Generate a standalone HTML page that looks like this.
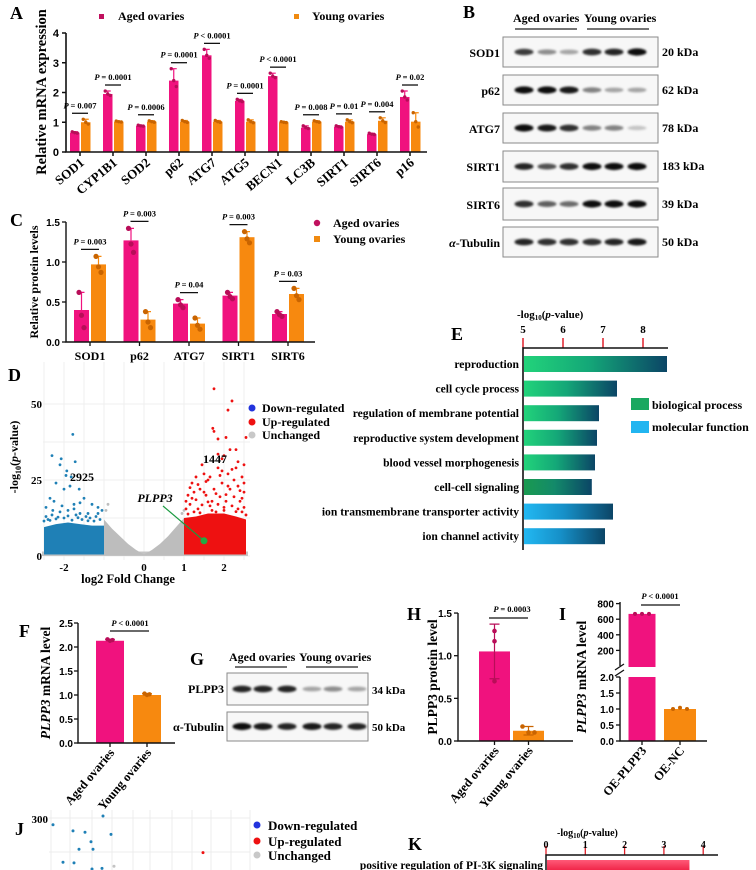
<!DOCTYPE html>
<html><head><meta charset="utf-8">
<style>
html,body{margin:0;padding:0;background:#fff;}
svg{display:block;font-family:"Liberation Serif",serif;font-weight:bold;}
.s{font-family:"Liberation Sans",sans-serif;font-weight:bold;}
.L{font-size:18px;}
</style></head><body>
<svg id="fig" width="756" height="870" viewBox="0 0 756 870" xmlns="http://www.w3.org/2000/svg">
<defs>
<linearGradient id="gGreen" x1="0" x2="1" y1="0" y2="0"><stop offset="0" stop-color="#22d37a"/><stop offset="0.45" stop-color="#14a878"/><stop offset="1" stop-color="#0b4566"/></linearGradient>
<linearGradient id="gGreenD" x1="0" x2="1" y1="0" y2="0"><stop offset="0" stop-color="#1a9a50"/><stop offset="0.45" stop-color="#138a6a"/><stop offset="1" stop-color="#0b4566"/></linearGradient>
<linearGradient id="gBlue" x1="0" x2="1" y1="0" y2="0"><stop offset="0" stop-color="#22b8f2"/><stop offset="0.45" stop-color="#1690c8"/><stop offset="1" stop-color="#0b4566"/></linearGradient>
<linearGradient id="gRed" x1="0" x2="0" y1="0" y2="1"><stop offset="0" stop-color="#ff5a78"/><stop offset="1" stop-color="#ee1c40"/></linearGradient>
<filter id="blur" x="-50%" y="-100%" width="200%" height="300%"><feGaussianBlur stdDeviation="1.1"/></filter>
</defs>

<text class="L" x="10" y="19">A</text>
<text class="L" x="463" y="18">B</text>
<text class="L" x="10" y="226">C</text>
<text class="L" x="8" y="381">D</text>
<text class="L" x="451" y="340">E</text>
<text class="L" x="19" y="637">F</text>
<text class="L" x="190" y="665">G</text>
<text class="L" x="407" y="620">H</text>
<text class="L" x="559" y="620">I</text>
<text class="L" x="15" y="835">J</text>
<text class="L" x="408" y="850">K</text>

<g font-size="12">
<rect x="99" y="14" width="5" height="5" fill="#c0105e"/>
<text x="118" y="20">Aged ovaries</text>
<rect x="294" y="14" width="5" height="5" fill="#f08a10"/>
<text x="312" y="20">Young ovaries</text>
</g>
<text transform="translate(46,92) rotate(-90)" text-anchor="middle" font-size="14.5">Relative mRNA expression</text>

<g font-size="12">
<circle cx="317" cy="223" r="3.2" fill="#c0105e"/>
<text x="333" y="227">Aged ovaries</text>
<rect x="314" y="236" width="6" height="6" fill="#f08a10"/>
<text x="333" y="243">Young ovaries</text>
</g>
<text transform="translate(38,282) rotate(-90)" text-anchor="middle" font-size="12">Relative protein levels</text>

<g font-size="12">
<text x="513" y="22">Aged ovaries</text>
<text x="584" y="22">Young ovaries</text>
<line x1="515" y1="29" x2="577" y2="29" stroke="#222" stroke-width="1.2"/>
<line x1="587" y1="29" x2="649" y2="29" stroke="#222" stroke-width="1.2"/>
<text x="500" y="57" text-anchor="end">SOD1</text>
<text x="500" y="95" text-anchor="end">p62</text>
<text x="500" y="133" text-anchor="end">ATG7</text>
<text x="500" y="171" text-anchor="end">SIRT1</text>
<text x="500" y="209" text-anchor="end">SIRT6</text>
<text x="500" y="247" text-anchor="end"><tspan font-style="italic">α</tspan>-Tubulin</text>
<text x="662" y="56">20 kDa</text>
<text x="662" y="94">62 kDa</text>
<text x="662" y="132">78 kDa</text>
<text x="662" y="170">183 kDa</text>
<text x="662" y="208">39 kDa</text>
<text x="662" y="246">50 kDa</text>
</g>

<text x="128" y="583" text-anchor="middle" font-size="12.5">log2 Fold Change</text>
<text transform="translate(18,457) rotate(-90)" text-anchor="middle" font-size="12">-log<tspan font-size="8" dy="3">10</tspan><tspan dy="-3">(</tspan><tspan font-style="italic">p</tspan>-value)</text>
<g font-size="12">
<circle cx="252" cy="408" r="3.5" fill="#2233dd"/><text x="262" y="412">Down-regulated</text>
<circle cx="252" cy="422" r="3.5" fill="#ee1111"/><text x="262" y="426">Up-regulated</text>
<circle cx="252" cy="435" r="3.5" fill="#c8c8c8"/><text x="262" y="439">Unchanged</text>
</g>

<text x="517" y="318" font-size="11">-log<tspan font-size="7" dy="2">10</tspan><tspan dy="-2">(</tspan><tspan font-style="italic">p</tspan>-value)</text>
<g font-size="12">
<rect x="631" y="398" width="18" height="12" fill="#1aa860"/><text x="652" y="409">biological process</text>
<rect x="631" y="421" width="18" height="12" fill="#22b5f0"/><text x="652" y="431">molecular function</text>
</g>

<text transform="translate(50,683) rotate(-90)" text-anchor="middle" font-size="13.5"><tspan font-style="italic">PLPP3</tspan> mRNA level</text>
<text transform="translate(437,677) rotate(-90)" text-anchor="middle" font-size="13.5">PLPP3 protein level</text>
<text transform="translate(586,677) rotate(-90)" text-anchor="middle" font-size="13.5"><tspan font-style="italic">PLPP3</tspan> mRNA level</text>

<g font-size="12">
<text x="229" y="661">Aged ovaries</text>
<text x="299" y="661">Young ovaries</text>
<line x1="235" y1="667" x2="287" y2="667" stroke="#222" stroke-width="1.2"/>
<line x1="306" y1="667" x2="358" y2="667" stroke="#222" stroke-width="1.2"/>
<text x="224" y="693" text-anchor="end">PLPP3</text>
<text x="224" y="731" text-anchor="end">α-Tubulin</text>
<text x="372" y="694" font-size="11">34 kDa</text>
<text x="372" y="731" font-size="11">50 kDa</text>
</g>

<g font-size="13">
<circle cx="257" cy="825" r="3.5" fill="#2233dd"/><text x="268" y="830">Down-regulated</text>
<circle cx="257" cy="841" r="3.5" fill="#ee1111"/><text x="268" y="846">Up-regulated</text>
<circle cx="257" cy="855" r="3.5" fill="#c8c8c8"/><text x="268" y="860">Unchanged</text>
</g>
<text x="557" y="836" font-size="10">-log<tspan font-size="7" dy="2">10</tspan><tspan dy="-2">(</tspan><tspan font-style="italic">p</tspan>-value)</text>
</svg>

<script>
const NS='http://www.w3.org/2000/svg';
const svg=document.getElementById('fig');
function mk(tag,a,p){const e=document.createElementNS(NS,tag);for(const k in a)e.setAttribute(k,a[k]);(p||svg).appendChild(e);return e;}
const PINK='#f0127e',PINKD='#b80d58',ORG='#f7890f',ORGD='#c96400';

const aCats=['SOD1','CYP1B1','SOD2','p62','ATG7','ATG5','BECN1','LC3B','SIRT1','SIRT6','p16'];
const aAged=[0.65,1.95,0.88,2.4,3.25,1.72,2.55,0.82,0.85,0.6,1.85];
const aYoung=[1.0,1.02,1.02,1.02,1.02,1.02,1.0,1.02,1.02,1.05,1.02];
const aAgedErr=[0.03,0.1,0.02,0.4,0.2,0.05,0.1,0.06,0.03,0.03,0.2];
const aYoungErr=[0.1,0.02,0.03,0.04,0.04,0.06,0.02,0.03,0.06,0.1,0.3];
const aPvals=['= 0.007','= 0.0001','= 0.0006','= 0.0001','< 0.0001','= 0.0001','< 0.0001','= 0.008','= 0.01','= 0.004','= 0.02'];
const aTicks=[0,1,2,3,4];

const cCats=['SOD1','p62','ATG7','SIRT1','SIRT6'];
const cAged=[0.4,1.27,0.48,0.58,0.35];
const cYoung=[0.97,0.28,0.23,1.31,0.6];
const cAgedErr=[0.22,0.15,0.05,0.04,0.03];
const cYoungErr=[0.1,0.1,0.07,0.07,0.07];
const cPvals=['= 0.003','= 0.003','= 0.04','= 0.003','= 0.03'];
const cTicks=[0,0.5,1.0,1.5];

const dXTicks=[-2,0,1,2];
const dYTicks=[0,25,50];
const dDownCloud=[[-2.5,0.5],[-2.5,9.5],[-2.2,10.5],[-1.9,11],[-1.6,10.5],[-1.3,10],[-1.0,10],[-1.0,0.5]];
const dUpCloud=[[1.0,0.5],[1.0,12.5],[1.3,13],[1.6,14],[2.0,14],[2.3,13],[2.55,12],[2.55,0.5]];
const dGreyCloud=[[-1.0,0.3],[-1.0,12],[-0.8,9],[-0.6,6.5],[-0.4,4],[-0.2,2],[0,0.5],[0.2,2],[0.4,4],[0.6,6.5],[0.8,9.5],[1.0,12.5],[1.0,0.3]];
const dGreyBase=[[-2.55,0],[-2.55,1.5],[2.6,1.5],[2.6,0]];
const dDownX=[-1.78,-2.3,-2.07,-1.72,-1.93,-2.1,-1.95,-1.82,-2.2,-1.85,-1.62,-2.0,-2.35,-1.5,-2.25,-1.75,-1.3,-1.15,-2.45,-1.05,-2.1,-1.6,-1.9,-1.4,-2.3,-1.2,-2.45,-1.7,-1.35,-2.15,-2.4,-2.0,-1.55,-1.25,-1.1,-1.8,-2.2,-1.45,-2.5,-1.65,-1.9,-2.35,-1.15,-1.75,-2.05,-1.4,-2.28,-1.6];
const dDownY=[40,33,32,31,28,30,26.5,26,24,23,22,22,19,19,18,17,17,16,16,15,14.5,14,15,14,13.5,13,13,13.5,12.5,12.8,12,12.5,12,11.5,12,11.8,12.2,13,11.5,12.6,13.2,11.7,14,15.5,16.5,11.6,15,17.5];
const dUpX=[1.75,2.2,2.1,1.72,1.75,2.55,2.05,1.85,2.15,2.3,2.0,1.95,2.5,1.85,2.3,1.5,1.3,2.1,2.45,1.6,1.2,1.95,2.35,1.4,1.75,2.15,2.5,1.1,1.55,1.9,2.25,1.3,1.7,2.05,2.4,1.15,1.45,1.85,2.2,2.5,1.05,1.35,1.65,2.0,2.35,1.25,1.8,2.45,1.1,1.4,1.7,2.0,2.3,2.55,1.2,1.5,1.8,2.1,2.4,1.35,1.65,1.95,2.25,2.5,1.05,1.55,1.9,2.2,1.45,2.35,1.25,2.05,1.6,2.45,1.15,1.85];
const dUpY=[55,51,48,42,41,39,39,38.5,35,35,33,32,30,29,29,27,26,27,26,25,24,24,23,22,22,22,21,20,20,19.5,19.5,18.5,18,18,18,17,16.8,17,16.5,16,15.5,15.5,16.5,16,15.5,14.5,14.5,14.5,13.8,14.2,15,15,14.6,13.5,19,21,20.5,23,21.5,23.5,26,28,25,24,18,24.5,26.5,28.5,30,31,21,20.2,17.8,19,22.5,33.5];
const dGreyX=[-0.9,-0.95,1.0,0.95];
const dGreyY=[17,15,15,14];
const dPlpp3=[1.5,5];

const eTerms=['reproduction','cell cycle process','regulation of membrane potential','reproductive system development','blood vessel morphogenesis','cell-cell signaling','ion transmembrane transporter activity','ion channel activity'];
const eValues=[8.6,7.35,6.9,6.85,6.8,6.72,7.25,7.05];
const eType=['bp','bp','bp','bp','bp','bpd','mf','mf'];
const eTicks=[5,6,7,8];

const fCats=['Aged ovaries','Young ovaries'];
const fValues=[2.13,1.0];
const fErr=[0.03,0.03];
const fTicks=[0,0.5,1.0,1.5,2.0,2.5];
const hCats=['Aged ovaries','Young ovaries'];
const hValues=[1.05,0.12];
const hErr=[0.32,0.05];
const hReps=[[1.29,1.17,0.7],[0.17,0.1,0.1]];
const hTicks=[0,0.5,1.0,1.5];
const iCats=['OE-PLPP3','OE-NC'];
const iValues=[668,1.0];
const iLowTicks=[0,0.5,1.0,1.5,2.0];
const iHighTicks=[200,400,600,800];
const kTerms=['positive regulation of PI-3K signaling'];
const kValues=[3.65];
const kTicks=[0,1,2,3,4];
const jDownX=[-1.88,-3.88,-3.08,-2.6,-1.56,-2.36,-2.84,-2.28,-3.48,-3.04,-2.32,-1.92];
const jDownY=[303,290,281,279,276,265,254,254,235,234,225,226];
const jUpX=[2.12];const jUpY=[249];
const jGreyX=[-1.44];const jGreyY=[229];

const bRows=['SOD1','p62','ATG7','SIRT1','SIRT6','Tubulin'];
const bInt=[[0.8,0.45,0.35,0.85,0.9,1.0],[1,1,0.95,0.5,0.35,0.35],[1,0.95,0.85,0.5,0.5,0.22],[0.9,0.7,0.85,1,1,1],[0.85,0.65,0.6,1,1,1],[0.9,0.85,0.85,0.85,0.9,0.95]];
const gInt=[[0.9,0.9,0.9,0.35,0.45,0.35],[1,0.95,0.9,0.95,0.9,0.9]];

function ptext(x,y,txt,fs){
  const t=mk('text',{x:x,y:y,'text-anchor':'middle','font-size':fs});
  
  
  const a=mk('tspan',{'font-style':'italic'},t);a.textContent='P ';
  const b=mk('tspan',{},t);b.textContent=txt;
  return t;
}
function errbar(x,y1,y2,col,w){
  const l=mk('path',{d:`M${x},${y1}V${y2}M${x-w},${y2}H${x+w}`,stroke:col,'stroke-width':1.2,fill:'none'});
  
  
}
function dots(x,vals,yf,col,r){
  vals.forEach((v,k)=>{
    const c=mk('circle',{cx:x+(k-1)*2.5,cy:yf(v),r:r,fill:col});
    
    
  });
}

(function(){
  const x=i=>80+i*33, y=v=>152-v*29.75;
  const g=mk('g',{});
  
  
  aTicks.forEach(t=>{
    const tx=mk('text',{x:59,y:y(t)+4,'text-anchor':'end','font-size':11,class:'s'},g);
    
    
    tx.textContent=t;
    mk('line',{x1:62,x2:66,y1:y(t),y2:y(t),stroke:'#111','stroke-width':1.5},g);
  });
  aCats.forEach((c,i)=>{
    const cx=x(i);
    const b1=mk('rect',{x:cx-10,y:y(aAged[i]),width:9.5,height:y(0)-y(aAged[i]),fill:PINK},g);
    
    
    const b2=mk('rect',{x:cx+1,y:y(aYoung[i]),width:9.5,height:y(0)-y(aYoung[i]),fill:ORG},g);
    
    
    errbar(cx-5.25,y(aAged[i]),y(aAged[i]+aAgedErr[i]),PINK,3);
    errbar(cx+5.75,y(aYoung[i]),y(aYoung[i]+aYoungErr[i]),ORG,3);
    dots(cx-5.25,[aAged[i]+aAgedErr[i],aAged[i],aAged[i]-aAgedErr[i]*0.5],y,PINKD,1.7);
    dots(cx+5.75,[aYoung[i]+aYoungErr[i],aYoung[i],aYoung[i]-aYoungErr[i]*0.6],y,ORGD,1.7);
    const top=y(Math.max(aAged[i]+aAgedErr[i],aYoung[i]+aYoungErr[i]));
    const ln=mk('line',{x1:cx-8,x2:cx+8,y1:top-6,y2:top-6,stroke:'#111','stroke-width':1.3},g);
    
    
    ptext(cx,top-11,aPvals[i],8.5);
    mk('line',{x1:cx,x2:cx,y1:152,y2:156,stroke:'#111','stroke-width':1.5},g);
    const lb=mk('text',{transform:`translate(${cx+5},164) rotate(-40)`,'text-anchor':'end','font-size':13},g);
    
    
    lb.textContent=c;
  });
  const ax=mk('path',{d:'M66,33V152H427',stroke:'#111','stroke-width':1.6,fill:'none'},g);
  
  
})();

(function(){
  const x=i=>90+i*49.5, y=v=>342-v*80;
  cTicks.forEach(t=>{
    const tx=mk('text',{x:60,y:y(t)+4,'text-anchor':'end','font-size':10,class:'s'});
    
    
    tx.textContent=t.toFixed(1);
    mk('line',{x1:62,x2:66,y1:y(t),y2:y(t),stroke:'#111','stroke-width':1.3});
  });
  cCats.forEach((c,i)=>{
    const cx=x(i);
    const b1=mk('rect',{x:cx-16,y:y(cAged[i]),width:15,height:y(0)-y(cAged[i]),fill:PINK});
    
    
    const b2=mk('rect',{x:cx+1,y:y(cYoung[i]),width:15,height:y(0)-y(cYoung[i]),fill:ORG});
    
    
    errbar(cx-8.5,y(cAged[i]),y(cAged[i]+cAgedErr[i]),PINK,3);
    errbar(cx+8.5,y(cYoung[i]),y(cYoung[i]+cYoungErr[i]),ORG,3);
    dots(cx-8.5,[cAged[i]+cAgedErr[i],cAged[i]-cAgedErr[i]*0.3,cAged[i]-cAgedErr[i]],y,PINKD,2.6);
    dots(cx+8.5,[cYoung[i]+cYoungErr[i],cYoung[i]-cYoungErr[i]*0.3,cYoung[i]-cYoungErr[i]],y,ORGD,2.6);
    const top=y(Math.max(cAged[i]+cAgedErr[i],cYoung[i]+cYoungErr[i]));
    const ln=mk('line',{x1:cx-9,x2:cx+9,y1:top-7,y2:top-7,stroke:'#111','stroke-width':1.3});
    
    
    ptext(cx,top-12,cPvals[i],8.5);
    mk('line',{x1:cx,x2:cx,y1:342,y2:346,stroke:'#111','stroke-width':1.3});
    const lb=mk('text',{x:cx,y:360,'text-anchor':'middle','font-size':12});
    
    
    lb.textContent=c;
  });
  const ax=mk('path',{d:'M66,222V342H315',stroke:'#111','stroke-width':1.4,fill:'none'});
  
  
})();

function blot(x0,x1,y0,y1,lanes,ints,name){
  const bx=mk('rect',{x:x0,y:y0,width:x1-x0,height:y1-y0,fill:'#f7f7f7',stroke:'#8a8a8a','stroke-width':1});
  
  
  const cy=(y0+y1)/2;
  ints.forEach((v,i)=>{
    const e=mk('ellipse',{cx:lanes[i],cy:cy,rx:9.5,ry:1.8+1.8*v,fill:'#000','fill-opacity':v*0.95,filter:'url(#blur)'});
    
    
  });
}
const bLanes=[524,547,569,592,614,637];
const bBoxY=[[37,67],[75,105],[113,143],[151,182],[188,220],[227,257]];
bRows.forEach((r,k)=>blot(503,658,bBoxY[k][0],bBoxY[k][1],bLanes,bInt[k],'blot-'+r.toLowerCase()));
const gLanes=[242,263,287,312,333,357];
blot(227,368,673,705,gLanes,gInt[0],'g-blot-plpp3');
blot(227,368,712,741,gLanes,gInt[1],'g-blot-tubulin');

(function(){
  const x=v=>144+v*40, y=v=>556-v*3.04;
  for(let v=-2.5;v<=2.6;v+=0.5){mk('line',{x1:x(v),x2:x(v),y1:362,y2:560,stroke:'#efefef','stroke-width':1});}
  for(let v=0;v<=60;v+=12.5){mk('line',{x1:43,x2:250,y1:y(v),y2:y(v),stroke:'#efefef','stroke-width':1});}
  function poly(pts,col,name){
    const p=mk('polygon',{points:pts.map(q=>x(q[0])+','+y(q[1])).join(' '),fill:col});
    
    
  }
  poly(dGreyBase,'#c4c4c4','unchanged-baseline');
  poly(dGreyCloud,'#bdbdbd','unchanged-cloud');
  poly(dDownCloud,'#1f80b6','down-regulated-cloud');
  poly(dUpCloud,'#ee1111','up-regulated-cloud');
  function pts(xs,ys,col,name){
    xs.forEach((v,i)=>{
      const c=mk('circle',{cx:x(v),cy:y(ys[i]),r:1.4,fill:col});
      
      
    });
  }
  pts(dGreyX,dGreyY,'#bdbdbd','unchanged-point');
  pts(dDownX,dDownY,'#1f80b6','down-regulated-point');
  pts(dUpX,dUpY,'#ee1111','up-regulated-point');
  const gl=mk('line',{x1:163,y1:506,x2:x(dPlpp3[0]),y2:y(dPlpp3[1]),stroke:'#1a9a40','stroke-width':1.2});
  
  
  const gp=mk('circle',{cx:x(dPlpp3[0]),cy:y(dPlpp3[1]),r:3.5,fill:'#22aa44'});
  
  
  const t1=mk('text',{x:155,y:502,'text-anchor':'middle','font-size':12,'font-style':'italic'});
  
  
  t1.textContent='PLPP3';
  const t2=mk('text',{x:82,y:481,'text-anchor':'middle','font-size':12});
  
  
  t2.textContent='2925';
  const t3=mk('text',{x:215,y:463,'text-anchor':'middle','font-size':12});
  
  
  t3.textContent='1447';
  dXTicks.forEach(t=>{
    const tx=mk('text',{x:x(t),y:571,'text-anchor':'middle','font-size':11});
    
    
    tx.textContent=t;
  });
  dYTicks.forEach(t=>{
    const tx=mk('text',{x:42,y:y(t)+4,'text-anchor':'end','font-size':11});
    
    
    tx.textContent=t;
  });
})();

(function(){
  const x=v=>523+(v-5)*40, yc=i=>364+i*24.6;
  const fills={bp:'url(#gGreen)',bpd:'url(#gGreenD)',mf:'url(#gBlue)'};
  eTerms.forEach((t,i)=>{
    const r=mk('rect',{x:x(5)+1,y:yc(i)-8,width:x(eValues[i])-x(5)-1,height:16,fill:fills[eType[i]]});
    
    
    const tx=mk('text',{x:519,y:yc(i)+4,'text-anchor':'end','font-size':11.6});
    
    
    tx.textContent=t;
  });
  eTicks.forEach(t=>{
    mk('line',{x1:x(t),x2:x(t),y1:338,y2:348,stroke:'#e0202a','stroke-width':1.5});
    const tx=mk('text',{x:x(t),y:333,'text-anchor':'middle','font-size':11});
    
    
    tx.textContent=t;
  });
  const ax=mk('path',{d:'M668,348H523V550',stroke:'#111','stroke-width':1.6,fill:'none'});
  
  
})();

function rotLabel(cx,y,txt,name){
  const lb=mk('text',{transform:`translate(${cx+5},${y}) rotate(-50)`,'text-anchor':'end','font-size':12.5});
  
  
  lb.textContent=txt;
}
(function(){
  const y=v=>743-v*48, cx=[110,147];
  fTicks.forEach(t=>{
    const tx=mk('text',{x:73,y:y(t)+4,'text-anchor':'end','font-size':10,class:'s'});
    
    
    tx.textContent=t.toFixed(1);
    mk('line',{x1:74,x2:78,y1:y(t),y2:y(t),stroke:'#111','stroke-width':1.3});
  });
  const cols=[PINK,ORG],dc=[PINKD,ORGD];
  fCats.forEach((c,i)=>{
    const b=mk('rect',{x:cx[i]-14,y:y(fValues[i]),width:28,height:y(0)-y(fValues[i]),fill:cols[i]});
    
    
    errbar(cx[i],y(fValues[i]),y(fValues[i]+fErr[i]),cols[i],5);
    dots(cx[i],[fValues[i]+fErr[i],fValues[i],fValues[i]+fErr[i]*0.5],y,dc[i],2.2);
    mk('line',{x1:cx[i],x2:cx[i],y1:743,y2:747,stroke:'#111','stroke-width':1.3});
    rotLabel(cx[i],753,c,'f-x-tick-label');
  });
  mk('line',{x1:110,x2:149,y1:631,y2:631,stroke:'#111','stroke-width':1.3});
  ptext(130,626,'< 0.0001',8.5);
  const ax=mk('path',{d:'M78,623V743H175',stroke:'#111','stroke-width':1.4,fill:'none'});
  
  
})();
(function(){
  const y=v=>741-v*85.3, cx=[494.5,528.5];
  hTicks.forEach(t=>{
    const tx=mk('text',{x:452,y:y(t)+4,'text-anchor':'end','font-size':10,class:'s'});
    
    
    tx.textContent=t.toFixed(1);
    mk('line',{x1:454,x2:458,y1:y(t),y2:y(t),stroke:'#111','stroke-width':1.3});
  });
  const cols=[PINK,ORG],dc=[PINKD,ORGD];
  hCats.forEach((c,i)=>{
    const b=mk('rect',{x:cx[i]-15.5,y:y(hValues[i]),width:31,height:y(0)-y(hValues[i]),fill:cols[i]});
    
    
    const l=mk('path',{d:`M${cx[i]},${y(hValues[i]-hErr[i])}V${y(hValues[i]+hErr[i])}M${cx[i]-5},${y(hValues[i]+hErr[i])}H${cx[i]+5}M${cx[i]-5},${y(hValues[i]-hErr[i])}H${cx[i]+5}`,stroke:i?ORGD:PINKD,'stroke-width':1.2,fill:'none'});
    
    
    hReps[i].forEach((v,k)=>{
      const d=mk('circle',{cx:cx[i]+(i?(k-1)*6:0),cy:y(v),r:2.3,fill:dc[i]});
      
      
    });
    mk('line',{x1:cx[i],x2:cx[i],y1:741,y2:745,stroke:'#111','stroke-width':1.3});
    rotLabel(cx[i],751,c,'h-x-tick-label');
  });
  mk('line',{x1:489,x2:528,y1:618,y2:618,stroke:'#111','stroke-width':1.3});
  ptext(512,612,'= 0.0003',8.5);
  const ax=mk('path',{d:'M458,613V741H573',stroke:'#111','stroke-width':1.4,fill:'none'});
  
  
})();
(function(){
  const yl=v=>741-v*32, yu=v=>666-v*0.078, cx=[642,680];
  iLowTicks.forEach(t=>{
    const tx=mk('text',{x:614,y:yl(t)+4,'text-anchor':'end','font-size':10,class:'s'});
    
    
    tx.textContent=t.toFixed(1);
    mk('line',{x1:616,x2:620,y1:yl(t),y2:yl(t),stroke:'#111','stroke-width':1.3});
  });
  iHighTicks.forEach(t=>{
    const tx=mk('text',{x:614,y:yu(t)+4,'text-anchor':'end','font-size':10,class:'s'});
    
    
    tx.textContent=t;
    mk('line',{x1:616,x2:620,y1:yu(t),y2:yu(t),stroke:'#111','stroke-width':1.3});
  });
  const capLow=2.0, upFloor=0;
  const b1=mk('rect',{x:cx[0]-13.5,y:yl(Math.min(iValues[0],capLow)),width:27,height:yl(0)-yl(Math.min(iValues[0],capLow)),fill:PINK});
  
  
  const b1u=mk('rect',{x:cx[0]-13.5,y:yu(iValues[0]),width:27,height:yu(upFloor)-yu(iValues[0])+1,fill:PINK});
  
  
  [-1,0,1].forEach(k=>{const d=mk('circle',{cx:cx[0]+k*7,cy:yu(iValues[0]),r:2,fill:PINKD});
    
    });
  const b2=mk('rect',{x:cx[1]-16,y:yl(iValues[1]),width:32,height:yl(0)-yl(iValues[1]),fill:ORG});
  
  
  [-1,0,1].forEach(k=>{const d=mk('circle',{cx:cx[1]+k*7,cy:yl(iValues[1]+(k?0:0.04)),r:2,fill:ORGD});
    
    });
  iCats.forEach((c,i)=>{
    mk('line',{x1:cx[i],x2:cx[i],y1:741,y2:745,stroke:'#111','stroke-width':1.3});
    rotLabel(cx[i],751,c,'i-x-tick-label');
  });
  mk('line',{x1:641,x2:680,y1:605,y2:605,stroke:'#111','stroke-width':1.3});
  ptext(660,599,'< 0.0001',8.5);
  const ax=mk('path',{d:'M620,602V666M620,677V741H707',stroke:'#111','stroke-width':1.4,fill:'none'});
  
  
  const br=mk('path',{d:'M615,670L624,664M615,676L624,670',stroke:'#111','stroke-width':1.3,fill:'none'});
  
  
})();

(function(){
  const x=v=>150+v*25, y=v=>818-(v-300)*0.68;
  [51,70,92,112,133,150,172,192,211,231,250].forEach(gx=>mk('line',{x1:gx,x2:gx,y1:810,y2:870,stroke:'#ececec','stroke-width':1}));
  [300,250].forEach(v=>mk('line',{x1:49,x2:250,y1:y(v),y2:y(v),stroke:'#ececec','stroke-width':1}));
  const t=mk('text',{x:48,y:y(300)+5,'text-anchor':'end','font-size':11});
  
  
  t.textContent='300';
  function pts(xs,ys,col,name){
    xs.forEach((v,i)=>{
      const c=mk('circle',{cx:x(v),cy:y(ys[i]),r:1.5,fill:col});
      
      
    });
  }
  pts(jDownX,jDownY,'#1f80b6','j-down-point');
  pts(jUpX,jUpY,'#ee1111','j-up-point');
  pts(jGreyX,jGreyY,'#c4c4c4','j-unchanged-point');
})();

(function(){
  const x=v=>546+v*39.3;
  kTerms.forEach((t,i)=>{
    const r=mk('rect',{x:x(0)+1,y:860,width:x(kValues[i])-x(0)-1,height:12,fill:'url(#gRed)'});
    
    
    const tx=mk('text',{x:543,y:869,'text-anchor':'end','font-size':11.5});
    
    
    tx.textContent=t;
  });
  kTicks.forEach(t=>{
    mk('line',{x1:x(t),x2:x(t),y1:846,y2:855,stroke:'#e0202a','stroke-width':1.3});
    const tx=mk('text',{x:x(t),y:848,'text-anchor':'middle','font-size':10});
    
    
    tx.textContent=t;
  });
  const ax=mk('path',{d:'M718,855H546V870',stroke:'#111','stroke-width':1.5,fill:'none'});
  
  
})();
</script>
</body></html>
